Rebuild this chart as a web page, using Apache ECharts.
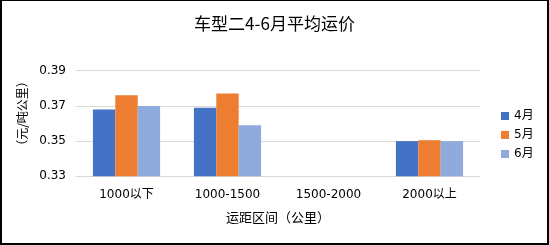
<!DOCTYPE html>
<html>
<head>
<meta charset="utf-8">
<script src="https://cdn.jsdelivr.net/npm/echarts@6/dist/echarts.min.js"></script>
<style>
html,body{margin:0;padding:0;background:#fff;}
#wrap{position:relative;width:549px;height:245px;}
#chart{position:absolute;left:0;top:0;width:549px;height:245px;}
#frame{position:absolute;left:0;top:0;width:549px;height:245px;box-sizing:border-box;border:2px solid #000;border-top-width:1px;pointer-events:none;}
</style>
</head>
<body>
<div id="wrap"><div id="chart"></div><div id="frame"></div></div>
<script>
var categories = ['1000以下', '1000-1500', '1500-2000', '2000以上'];
var seriesNames = ['4月', '5月', '6月'];
var april = [0.368, 0.369, null, 0.350];
var may = [0.376, 0.377, null, 0.3505];
var june = [0.370, 0.359, null, 0.350];
var yTicks = [0.33, 0.35, 0.37, 0.39];

var FONT = 'DejaVu Sans, Noto Sans CJK SC, sans-serif';
var colors = ['#4472C4', '#ED7D31', '#8FAADC'];
var chart = echarts.init(document.getElementById('chart'), null, {renderer: 'canvas'});
var dataSets = [april, may, june];
chart.setOption({
  animation: false,
  color: colors,
  title: {
    text: '车型二4-6月平均运价',
    left: 'center',
    top: 10,
    textStyle: {fontFamily: 'Noto Sans CJK SC, sans-serif', fontSize: 17, fontWeight: 'normal', color: '#000'}
  },
  grid: {left: 76, right: 69, top: 70.7, bottom: 68.7, containLabel: false},
  legend: {
    orient: 'vertical',
    left: 496,
    top: 105,
    itemWidth: 8,
    itemHeight: 8,
    itemGap: 7,
    icon: 'rect',
    textStyle: {fontFamily: FONT, fontSize: 12, color: '#000'},
    data: seriesNames
  },
  xAxis: {
    type: 'category',
    data: categories,
    name: '运距区间（公里）',
    nameLocation: 'middle',
    nameGap: 34,
    nameTextStyle: {fontFamily: 'Noto Sans CJK SC, sans-serif', fontSize: 13, color: '#000'},
    axisLine: {show: true, lineStyle: {color: '#D9D9D9', width: 1}},
    axisTick: {show: false},
    axisLabel: {fontFamily: FONT, fontSize: 12, color: '#000', margin: 13}
  },
  yAxis: {
    type: 'value',
    min: yTicks[0],
    max: yTicks[yTicks.length - 1],
    interval: yTicks[1] - yTicks[0],
    name: '（元/吨公里）',
    nameLocation: 'middle',
    nameGap: 37,
    nameRotate: 90,
    nameTextStyle: {fontFamily: 'Noto Sans CJK SC, sans-serif', fontSize: 12, color: '#000', padding: [0, 0, 0, 20]},
    axisLine: {show: false},
    axisTick: {show: false},
    splitLine: {lineStyle: {color: '#D9D9D9', width: 1}},
    axisLabel: {fontFamily: FONT, fontSize: 12, color: '#000', margin: 10,
      formatter: function (v) { return v.toFixed(2); }}
  },
  series: seriesNames.map(function (n, i) {
    return {
      name: n,
      type: 'bar',
      data: dataSets[i],
      barGap: '0%',
      barCategoryGap: '33.5%'
    };
  })
});
</script>
</body>
</html>
